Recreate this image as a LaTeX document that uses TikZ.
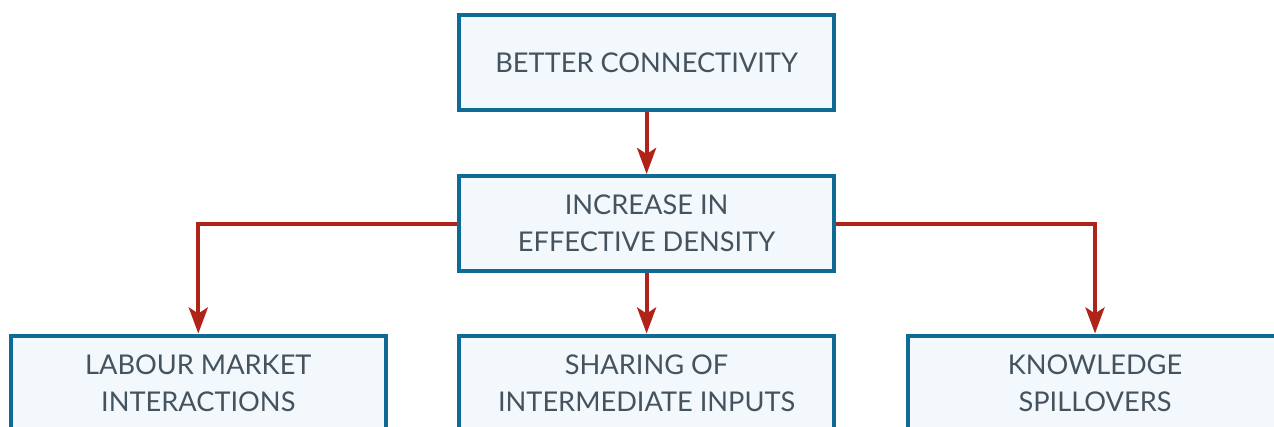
\documentclass[tikz,border=0pt]{standalone}
\usepackage{fontspec}
\setmainfont{Lato}
\usetikzlibrary{arrows.meta}
\definecolor{boxblue}{HTML}{0F6A96}
\definecolor{boxfill}{HTML}{F3F8FD}
\definecolor{txt}{HTML}{45535E}
\definecolor{arrred}{HTML}{B02318}
\begin{document}
\begin{tikzpicture}[x=1pt,y=-1pt,
  box/.style={draw=boxblue, fill=boxfill, line width=4pt, minimum width=375pt,
    minimum height=95pt, align=center, text=txt,
    font=\fontsize{27.2}{37}\selectfont},
  conn/.style={draw=arrred, line width=4pt,
    -{Stealth[length=26pt,width=19pt,inset=6pt]}}]
\useasboundingbox (0,0) rectangle (1274,426);
\clip (0,0) rectangle (1274,426);
\node[box] (top) at (646.6,62.7) {BETTER CONNECTIVITY};
\node[box] (mid) at (646.6,223.5) {INCREASE IN\\EFFECTIVE DENSITY};
\node[box] (left) at (198.3,383) {LABOUR MARKET\\INTERACTIONS};
\node[box] (cen) at (646.6,383) {SHARING OF\\INTERMEDIATE INPUTS};
\node[box] (right) at (1095,383) {KNOWLEDGE\\SPILLOVERS};
\draw[conn] (top.south) -- (mid.north);
\draw[conn] (mid.south) -- (cen.north);
\draw[conn] (mid.west) -| (left.north);
\draw[conn] (mid.east) -| (right.north);
\end{tikzpicture}
\end{document}
